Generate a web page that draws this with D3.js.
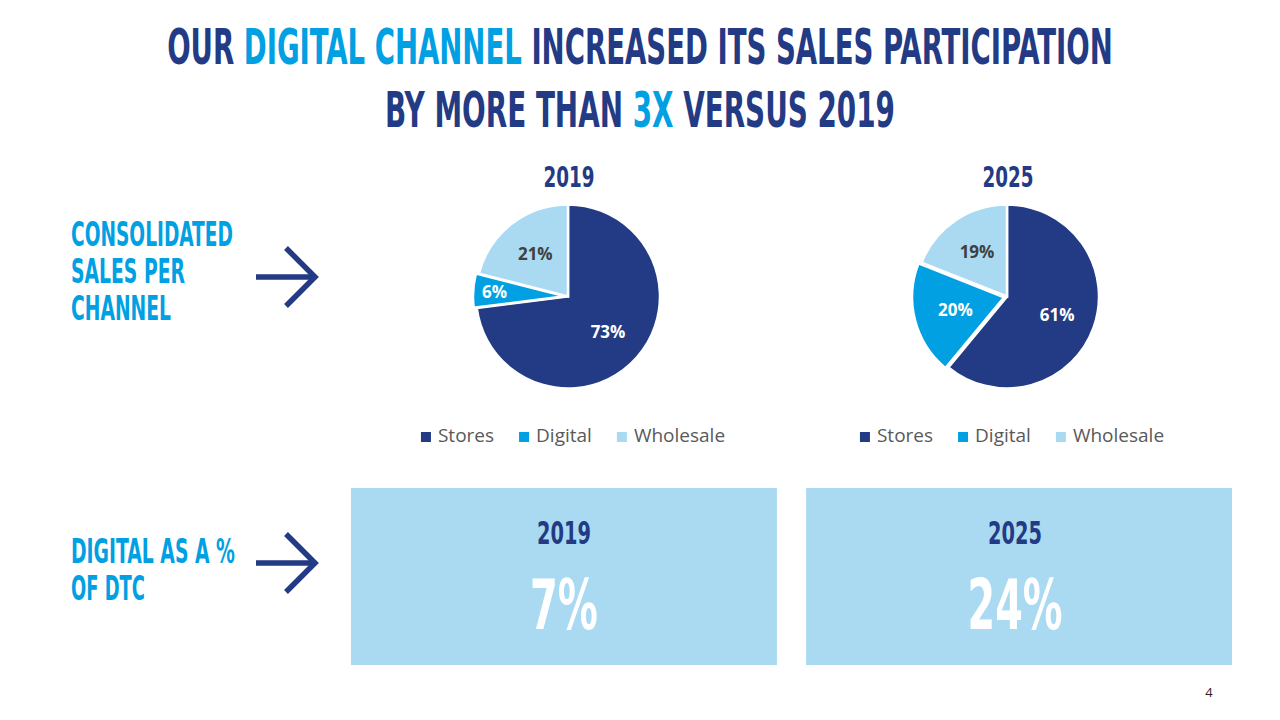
<!DOCTYPE html>
<html lang="en">
<head>
    <meta charset="UTF-8">
    <title>Digital channel sales participation</title>
    <script src="https://d3js.org/d3.v7.min.js"></script>
    <style>
        body { margin: 0; background: #fff; }
        .cond { font-family: "Liberation Sans Narrow", "DejaVu Sans Condensed", "Liberation Sans", sans-serif; font-weight: bold; }
        .body { font-family: "Open Sans", "Noto Sans", sans-serif; }
    </style>
</head>
<body>
    <div class="slide"></div>
    <script>
        // data
        const channels = ["Stores", "Digital", "Wholesale"];
        const years = ["2019", "2025"];
        const share2019 = [73, 6, 21];
        const share2025 = [61, 20, 19];
        const digitalOfDtc = [7, 24];

        const width = 1280;
        const height = 720;
        const navy = "#233a84";
        const cyan = "#00a0e3";
        const pale = "#a9daf2";

        const color = d3.scaleOrdinal()
            .domain(channels)
            .range([navy, cyan, pale]);

        const svg = d3.select('.slide')
            .append('svg')
            .attr('width', width)
            .attr('height', height);

        // squeeze a text element horizontally to a given width (condensed look)
        function fit(sel, w) {
            const bw = sel.node().getBBox().width;
            const cx = +sel.attr('x');
            const k = w / bw;
            sel.attr('transform', `translate(${cx},0) scale(${k},1) translate(${-cx},0)`);
            return sel;
        }

        // title
        const title1 = svg.append('text').attr('class', 'cond')
            .attr('x', 640).attr('y', 64).attr('text-anchor', 'middle')
            .attr('font-size', 50).attr('fill', navy);
        title1.append('tspan').text('OUR ');
        title1.append('tspan').attr('fill', cyan).text('DIGITAL CHANNEL');
        title1.append('tspan').text(' INCREASED ITS SALES PARTICIPATION');
        fit(title1, 946);

        const title2 = svg.append('text').attr('class', 'cond')
            .attr('x', 640).attr('y', 127).attr('text-anchor', 'middle')
            .attr('font-size', 50).attr('fill', navy);
        title2.append('tspan').text('BY MORE THAN ');
        title2.append('tspan').attr('fill', cyan).text('3X');
        title2.append('tspan').text(' VERSUS 2019');
        fit(title2, 510);

        // left side labels + arrows
        const sideLabels = [
            { lines: ["CONSOLIDATED", "SALES PER", "CHANNEL"], widths: [162, 114, 100], y: 246, arrowY: 277 },
            { lines: ["DIGITAL AS A %", "OF DTC"], widths: [164, 74], y: 563, arrowY: 563 }
        ];
        sideLabels.forEach(s => {
            s.lines.forEach((line, i) => {
                const t = svg.append('text').attr('class', 'cond')
                    .attr('x', 71).attr('y', s.y + i * 37)
                    .attr('font-size', 34).attr('fill', cyan)
                    .text(line);
                fit(t, s.widths[i]);
            });
            const a = svg.append('g').attr('fill', 'none').attr('stroke', navy).attr('stroke-width', 5.5);
            a.append('line').attr('x1', 256).attr('x2', 316).attr('y1', s.arrowY).attr('y2', s.arrowY);
            a.append('path').attr('d', `M286,${s.arrowY - 29}L315,${s.arrowY}L286,${s.arrowY + 29}`);
        });

        // pies
        const pieX = d3.scalePoint().domain(years).range([568, 1007]);
        const pieY = 296.5;
        const radius = 92;
        const pie = d3.pie().sort(null).value(d => d);
        const arc = d3.arc().innerRadius(0).outerRadius(radius);
        const labelArc = d3.arc().innerRadius(radius * 0.58).outerRadius(radius * 0.58);
        const edgeArc = d3.arc().innerRadius(radius * 0.8).outerRadius(radius * 0.8);

        [share2019, share2025].forEach((vals, yi) => {
            const g = svg.append('g')
                .attr('transform', `translate(${pieX(years[yi])},${pieY})`);

            const t = svg.append('text').attr('class', 'cond')
                .attr('x', pieX(years[yi]) + 1).attr('y', 187)
                .attr('text-anchor', 'middle').attr('font-size', 28).attr('fill', navy)
                .text(years[yi]);
            fit(t, 51);

            const arcs = pie(vals);
            g.selectAll('path')
                .data(arcs)
                .enter()
                .append('path')
                .attr('d', arc)
                .attr('fill', (d, i) => color(channels[i]))
                .attr('stroke', '#fff')
                .attr('stroke-width', 2.5)
                .attr('transform', (d, i) => {
                    if (channels[i] !== 'Digital') return null;
                    const m = (d.startAngle + d.endAngle) / 2;
                    return `translate(${Math.sin(m) * 3},${-Math.cos(m) * 3})`;
                });

            g.selectAll('text')
                .data(arcs)
                .enter()
                .append('text')
                .attr('class', 'body')
                .attr('transform', d => `translate(${(d.data < 10 ? edgeArc : labelArc).centroid(d)})`)
                .attr('text-anchor', 'middle')
                .attr('dy', '0.35em')
                .attr('font-size', 17)
                .attr('font-weight', 'bold')
                .attr('fill', (d, i) => channels[i] === 'Wholesale' ? '#404040' : '#fff')
                .text(d => d.data + '%');

            // legend
            const lg = svg.append('g');
            let x = 0;
            channels.forEach((c, i) => {
                lg.append('rect').attr('x', x).attr('y', -10).attr('width', 10).attr('height', 10)
                    .attr('fill', color(c));
                const lt = lg.append('text').attr('class', 'body')
                    .attr('x', x + 17).attr('y', 0)
                    .attr('font-size', 19).attr('fill', '#595959')
                    .text(c);
                x += 17 + lt.node().getComputedTextLength() + 25;
            });
            const lw = x - 25;
            lg.attr('transform', `translate(${pieX(years[yi]) + 5 - lw / 2},442)`);
        });

        // digital share of DTC boxes
        const boxX = d3.scaleBand().domain(years).range([351, 1232]).paddingInner(0.064);
        const boxes = svg.selectAll('g.box')
            .data(digitalOfDtc)
            .enter()
            .append('g')
            .attr('class', 'box');

        boxes.append('rect')
            .attr('x', (d, i) => boxX(years[i]))
            .attr('y', 488)
            .attr('width', boxX.bandwidth())
            .attr('height', 177)
            .attr('fill', pale);

        boxes.each(function (d, i) {
            const cx = boxX(years[i]) + boxX.bandwidth() / 2 - (i ? 4 : 0);
            const yr = d3.select(this).append('text').attr('class', 'cond')
                .attr('x', cx).attr('y', 544)
                .attr('text-anchor', 'middle').attr('font-size', 32).attr('fill', navy)
                .text(years[i]);
            fit(yr, 54);
            const big = d3.select(this).append('text').attr('class', 'cond')
                .attr('x', cx).attr('y', 629)
                .attr('text-anchor', 'middle').attr('font-size', 70).attr('fill', '#fff')
                .text(d + '%');
            fit(big, d < 10 ? 68 : 95);
        });

        // page number
        svg.append('text').attr('class', 'body')
            .attr('x', 1209).attr('y', 697).attr('text-anchor', 'middle')
            .attr('font-size', 13).attr('fill', '#3a1a1a')
            .text('4');
    </script>
</body>
</html>
